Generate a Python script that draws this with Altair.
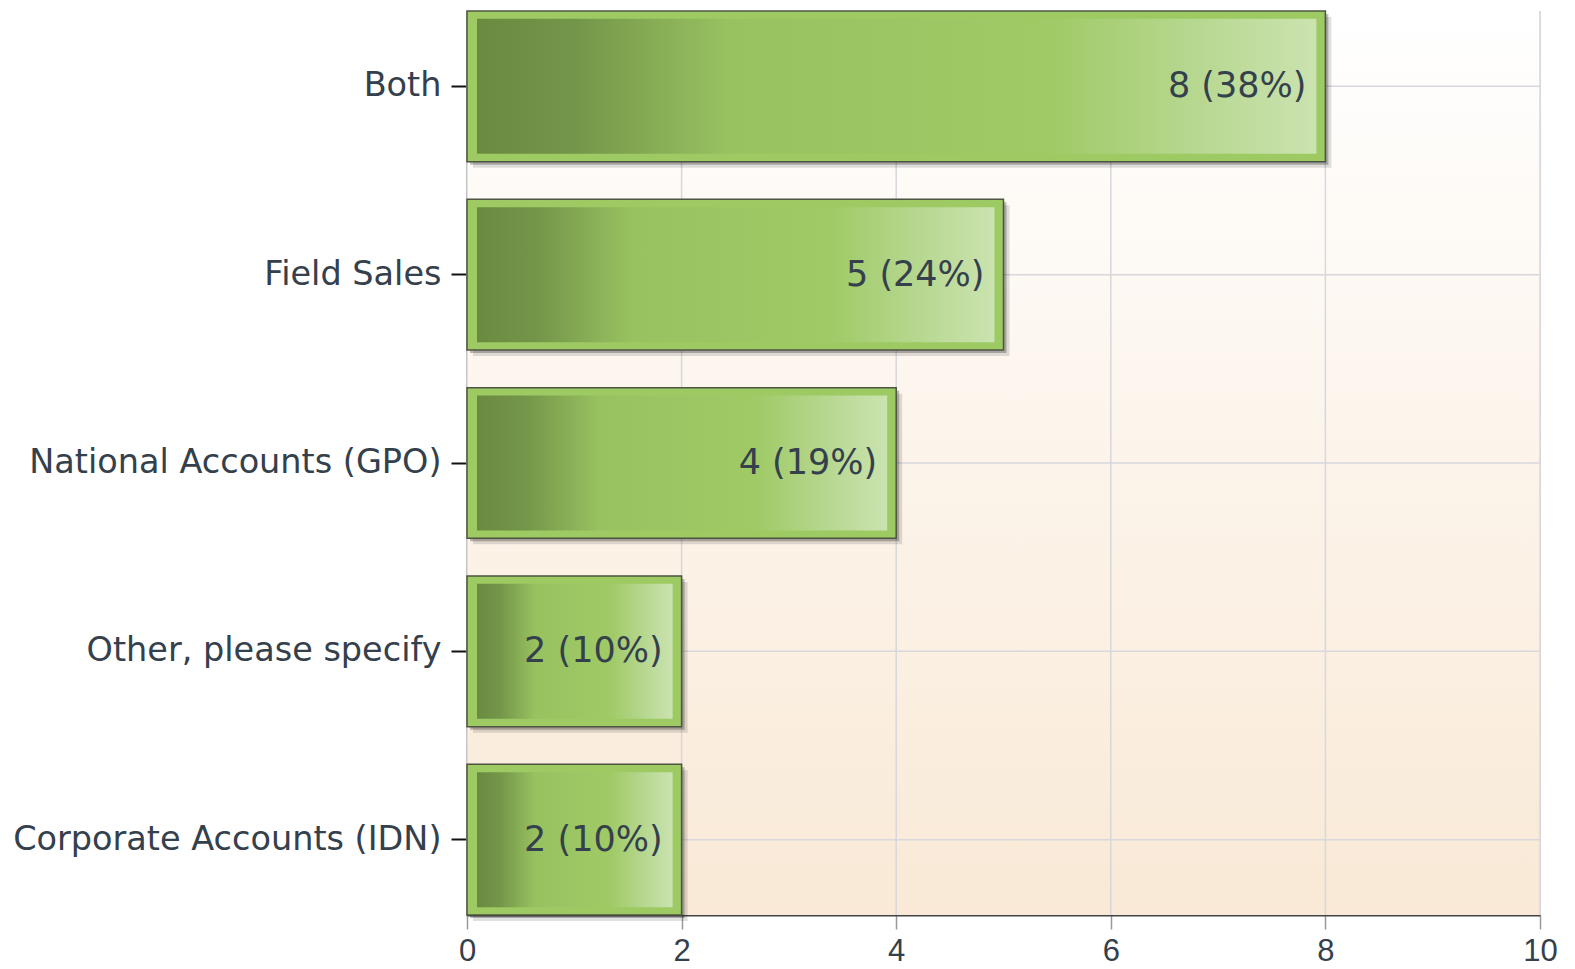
import altair as alt
import pandas as pd

categories = ["Both", "Field Sales", "National Accounts (GPO)", "Other, please specify", "Corporate Accounts (IDN)"]
counts = [8, 5, 4, 2, 2]
percents = [38, 24, 19, 10, 10]
x_ticks = [0, 2, 4, 6, 8, 10]

df = pd.DataFrame({"cat": categories, "n": counts, "pct": percents})
df["label"] = df["n"].astype(str) + " (" + df["pct"].astype(str) + "%)"

W, H = 1073, 904
TXT = "#34404c"
GRID = "#d7d7dc"

yaxis = alt.Axis(
    title=None, bandPosition=0.5, grid=False,
    tickColor="#111111", tickWidth=2, tickSize=16, labelPadding=10,
    labelFont="DejaVu Sans", labelFontSize=33.5, labelColor=TXT,
    domainColor="#111111", domainWidth=2, labelLimit=700,
)
yscale = alt.Scale(paddingInner=0.2, paddingOuter=0)
y = alt.Y("cat:N", sort=categories, scale=yscale, axis=yaxis)

xscale = alt.Scale(domain=[0, 10], nice=False, zero=True)
xaxis = alt.Axis(
    title=None, values=x_ticks, grid=False, labelFlush=False,
    tickColor="#999999", tickWidth=1.5, tickSize=14, labelPadding=7,
    labelFont="Liberation Sans", labelFontSize=31, labelColor=TXT,
    domainColor="#444444", domainWidth=2,
)
x = alt.X("n:Q", scale=xscale, axis=xaxis)

bg = alt.LinearGradient(
    gradient="linear", x1=0, y1=0, x2=0, y2=1,
    stops=[alt.GradientStop(offset=0, color="#ffffff"), alt.GradientStop(offset=1, color="#f9e9d6")],
)
background = alt.Chart(pd.DataFrame({"a": [0]})).mark_rect(fill=bg).encode(
    x=alt.value(0), x2=alt.value(W), y=alt.value(0), y2=alt.value(H)
)

vgrid = alt.Chart(pd.DataFrame({"n": x_ticks})).mark_rule(color=GRID, strokeWidth=1.5).encode(x=x)
hgrid = alt.Chart(pd.DataFrame({"cat": categories})).mark_rule(color=GRID, strokeWidth=1.5).encode(
    y=alt.Y("cat:N", sort=categories, scale=yscale, bandPosition=0.5, axis=yaxis),
    x=alt.value(0), x2=alt.value(W),
)

base = alt.Chart(df).encode(y=y, x=x, x2=alt.datum(0))

shadow1 = base.mark_bar(color="#000000", opacity=0.12, xOffset=6, x2Offset=6, yOffset=6)
shadow2 = base.mark_bar(color="#000000", opacity=0.25, xOffset=3, x2Offset=3, yOffset=3)
outer = base.mark_bar(fill="#9dca62", stroke="#4d5442", strokeWidth=1.5)

grad = alt.LinearGradient(
    gradient="linear", x1=0, y1=0, x2=1, y2=0,
    stops=[
        alt.GradientStop(offset=0, color="#6a8a3f"),
        alt.GradientStop(offset=0.12, color="#74964a"),
        alt.GradientStop(offset=0.3, color="#98c260"),
        alt.GradientStop(offset=0.68, color="#9fca66"),
        alt.GradientStop(offset=0.85, color="#b6d78f"),
        alt.GradientStop(offset=1, color="#cbe3b0"),
    ],
)
inner = base.mark_bar(fill=grad, xOffset=-9, x2Offset=10, height=135)

labels = alt.Chart(df).mark_text(
    align="right", baseline="middle", dx=-19, font="DejaVu Sans", fontSize=35, color=TXT
).encode(y=y, x=x, text="label:N")

chart = alt.layer(background, vgrid, hgrid, shadow1, shadow2, outer, inner, labels).properties(
    width=W, height=H, autosize="none",
    padding={"left": 459, "top": 3, "right": 20, "bottom": 53},
).configure_view(stroke=None).configure(background="#ffffff")

chart.save("out.html", embed_options={"renderer": "svg", "actions": False})
